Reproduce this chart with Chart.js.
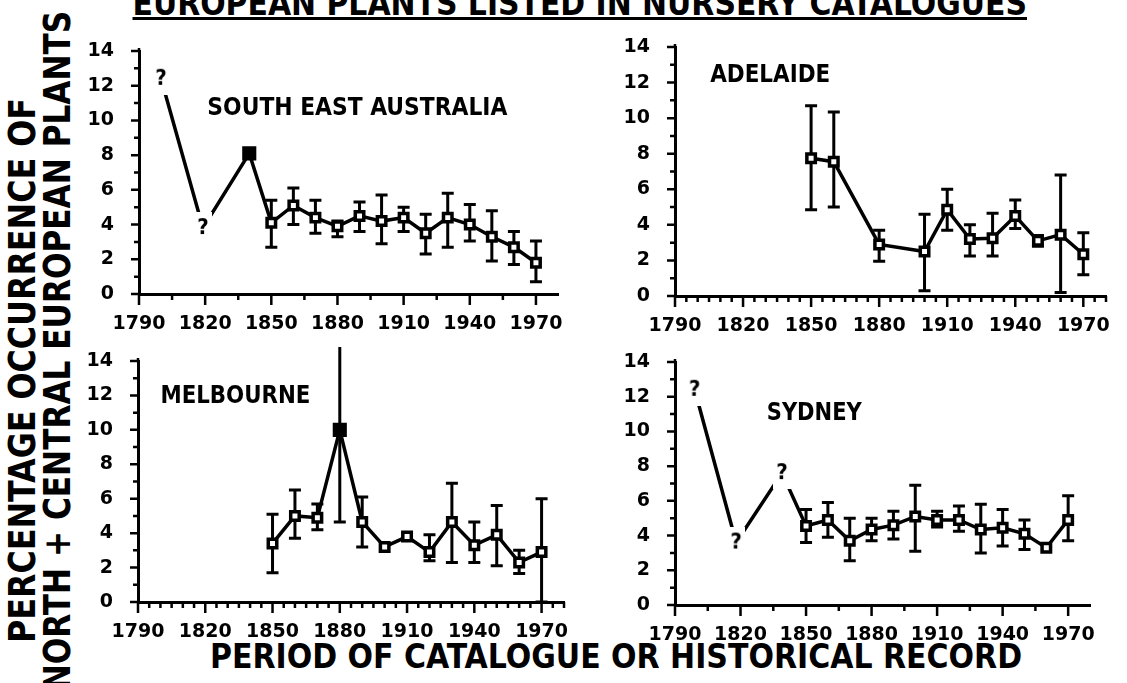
<!DOCTYPE html>
<html>
<head>
<meta charset="utf-8">
<script src="https://cdn.jsdelivr.net/npm/chart.js@4.4.0/dist/chart.umd.min.js"></script>
<style>
  body { margin: 0; background: #fff; }
  #page { position: relative; width: 1127px; height: 683px; overflow: hidden; background: #fff; }
  #page canvas { position: absolute; }
  .ttl { position: absolute; font-family: 'DejaVu Sans Condensed', 'DejaVu Sans', sans-serif; font-weight: bold;
         color: #000; white-space: nowrap; line-height: 1; }
</style>
</head>
<body>
<div id="page">
  <div class="ttl" id="mainTitle" style="font-size:34px">EUROPEAN PLANTS LISTED IN NURSERY CATALOGUES</div>
  <div class="ttl" id="yTitle1" style="font-size:37px">PERCENTAGE OCCURRENCE OF</div>
  <div class="ttl" id="yTitle2" style="font-size:37px">NORTH + CENTRAL EUROPEAN PLANTS</div>
  <div class="ttl" id="xTitle" style="font-size:34px">PERIOD OF CATALOGUE OR HISTORICAL RECORD</div>
</div>
<script>
// tick labels
var xTickValues = [1790, 1820, 1850, 1880, 1910, 1940, 1970];
var yTickValues = [0, 2, 4, 6, 8, 10, 12, 14];

// South East Australia
var seYears  = [1800, 1819, 1840, 1850, 1860, 1870, 1880, 1890, 1900, 1910, 1920, 1930, 1940, 1950, 1960, 1970];
var seValues = [12.4, 3.8, 8.1, 4.1, 5.1, 4.4, 3.9, 4.5, 4.2, 4.4, 3.5, 4.4, 4.0, 3.3, 2.7, 1.8];
var seLow    = [null, null, null, 2.7, 4.0, 3.5, 3.3, 3.6, 2.9, 3.6, 2.3, 2.7, 3.05, 1.9, 1.7, 0.7];
var seHigh   = [null, null, null, 5.4, 6.1, 5.4, 4.2, 5.3, 5.7, 5.0, 4.6, 5.8, 5.15, 4.8, 3.6, 3.05];
var seQuery  = [true, true, false, false, false, false, false, false, false, false, false, false, false, false, false, false];

// Adelaide
var adYears  = [1850, 1860, 1880, 1900, 1910, 1920, 1930, 1940, 1950, 1960, 1970];
var adValues = [7.75, 7.55, 2.9, 2.5, 4.85, 3.2, 3.25, 4.5, 3.1, 3.45, 2.35];
var adLow    = [4.85, 5.0, 1.95, 0.3, 3.7, 2.25, 2.25, 3.8, 2.8, 0.2, 1.2];
var adHigh   = [10.7, 10.35, 3.7, 4.6, 6.0, 4.0, 4.65, 5.4, 3.4, 6.8, 3.55];

// Melbourne
var meYears  = [1850, 1860, 1870, 1880, 1890, 1900, 1910, 1920, 1930, 1940, 1950, 1960, 1970];
var meValues = [3.4, 5.0, 4.9, 10.0, 4.65, 3.2, 3.8, 2.9, 4.65, 3.3, 3.9, 2.3, 2.9];
var meLow    = [1.7, 3.7, 4.2, 4.65, 3.2, null, null, 2.4, 2.3, 2.3, 2.1, 1.65, 0];
var meHigh   = [5.1, 6.5, 5.7, 15.0, 6.1, null, null, 3.9, 6.9, 4.65, 5.6, 3.0, 6.0];

// Sydney
var syYears  = [1799, 1818, 1839, 1850, 1860, 1870, 1880, 1890, 1900, 1910, 1920, 1930, 1940, 1950, 1960, 1970];
var syValues = [12.4, 3.6, 7.6, 4.55, 4.9, 3.7, 4.35, 4.6, 5.1, 4.9, 4.9, 4.35, 4.45, 4.1, 3.3, 4.9];
var syLow    = [null, null, null, 3.6, 3.9, 2.55, 3.7, 3.8, 3.1, 4.5, 4.25, 3.0, 3.4, 3.2, null, 3.7];
var syHigh   = [null, null, null, 5.5, 5.9, 5.0, 5.0, 5.4, 6.9, 5.4, 5.7, 5.8, 5.5, 4.9, null, 6.3];
var syQuery  = [true, true, true, false, false, false, false, false, false, false, false, false, false, false, false, false];

var FONT = "'DejaVu Sans Condensed', 'DejaVu Sans', sans-serif";
var TICKFONT = "'DejaVu Sans', sans-serif";
Chart.defaults.font.family = TICKFONT;
Chart.defaults.font.weight = 'bold';
Chart.defaults.color = '#000';

// "?" marker with a white patch so the line stops short of it
function queryMark() {
	var c = document.createElement('canvas');
	c.width = 18; c.height = 32;
	var g = c.getContext('2d');
	g.fillStyle = '#fff';
	g.fillRect(0, 0, c.width, c.height);
	g.fillStyle = '#000';
	g.font = "bold 22px " + FONT;
	g.textAlign = 'center';
	g.textBaseline = 'middle';
	g.fillText('?', 9, 16);
	return c;
}
var qMark = queryMark();

var errorBars = {
	id: 'errorBars',
	beforeDatasetsDraw: function(chart, args, opts) {
		var xs = chart.scales.x, ys = chart.scales.y, ctx = chart.ctx;
		ctx.save();
		ctx.strokeStyle = '#000';
		ctx.lineWidth = 3;
		for (var i = 0; i < opts.years.length; i++) {
			if (opts.low[i] == null) continue;
			var px = xs.getPixelForValue(opts.years[i]);
			var a = ys.getPixelForValue(opts.low[i]);
			var b = ys.getPixelForValue(opts.high[i]);
			ctx.beginPath();
			ctx.moveTo(px, a); ctx.lineTo(px, b);
			ctx.moveTo(px - 6, a); ctx.lineTo(px + 6, a);
			ctx.moveTo(px - 6, b); ctx.lineTo(px + 6, b);
			ctx.stroke();
		}
		ctx.restore();
	}
};

var axisMarks = {
	id: 'axisMarks',
	afterDraw: function(chart, args, opts) {
		var xs = chart.scales.x, ys = chart.scales.y, ctx = chart.ctx;
		var area = chart.chartArea;
		ctx.save();
		ctx.strokeStyle = '#000';
		ctx.lineWidth = 2.5;
		ctx.beginPath();
		for (var yr = 1790; yr <= 1980; yr += opts.xStep) {
			var px = xs.getPixelForValue(yr);
			var len = ((yr - 1790) % 30 === 0) ? 11 : 6;
			ctx.moveTo(px, area.bottom); ctx.lineTo(px, area.bottom + len);
		}
		for (var v = 0; v <= 14; v++) {
			var py = ys.getPixelForValue(v);
			var l = (v % 2 === 0) ? 8 : 5;
			ctx.moveTo(area.left, py); ctx.lineTo(area.left - l, py);
		}
		ctx.moveTo(area.left, area.top); ctx.lineTo(area.left, area.top - 3);
		ctx.stroke();
		// panel name
		var x0 = xs.getPixelForValue(opts.labelX), y0 = ys.getPixelForValue(opts.labelY);
		ctx.fillStyle = '#000';
		ctx.font = "bold 24px " + FONT;
		ctx.textBaseline = 'middle';
		var w = ctx.measureText(opts.label).width;
		ctx.translate(x0, y0);
		ctx.scale(opts.labelW / w, 1);
		ctx.fillText(opts.label, 0, 0);
		ctx.restore();
	}
};

function makePanel(p) {
	var canvas = document.createElement('canvas');
	canvas.width = p.width;
	canvas.height = p.height;
	canvas.style.left = p.left + 'px';
	canvas.style.top = p.top + 'px';
	document.getElementById('page').appendChild(canvas);

	var points = p.years.map(function(yr, i) { return { x: yr, y: p.values[i] }; });
	var styles = p.years.map(function(yr, i) { return (p.query && p.query[i]) ? qMark : 'rect'; });
	var solid = p.solid || [];
	var fills = p.years.map(function(yr) { return solid.indexOf(yr) >= 0 ? '#000' : '#fff'; });
	var radii = p.years.map(function(yr) { return solid.indexOf(yr) >= 0 ? 7.5 : 6; });

	return new Chart(canvas, {
		type: 'line',
		data: {
			datasets: [{
				data: points,
				borderColor: '#000',
				borderWidth: 3.5,
				tension: 0,
				pointStyle: styles,
				pointRadius: radii,
				pointBorderWidth: 3.5,
				pointBackgroundColor: fills,
				pointBorderColor: '#000',
				clip: false
			}]
		},
		options: {
			responsive: false,
			animation: false,
			events: [],
			layout: { padding: { left: 0, top: 14, right: 12, bottom: 0 } },
			plugins: {
				legend: { display: false },
				tooltip: { enabled: false },
				errorBars: { years: p.years, low: p.low, high: p.high },
				axisMarks: { xStep: p.xStep, label: p.label, labelX: p.labelX, labelY: p.labelY, labelW: p.labelW }
			},
			scales: {
				x: {
					type: 'linear', min: 1790, max: 1980,
					grid: { display: false, drawTicks: true, tickLength: 19 },
					border: { display: true, color: '#000', width: 3 },
					ticks: { padding: 0, autoSkip: false, maxRotation: 0, font: { size: 19, weight: 'bold' },
						callback: function(v) { return String(v); } },
					afterBuildTicks: function(s) { s.ticks = xTickValues.map(function(v) { return { value: v }; }); },
					afterFit: function(s) { s.height = 45; }
				},
				y: {
					min: 0, max: 14,
					grid: { display: false, drawTicks: true, tickLength: 25 },
					border: { display: true, color: '#000', width: 3 },
					ticks: { padding: 0, font: { size: 19, weight: 'bold' } },
					afterBuildTicks: function(s) { s.ticks = yTickValues.map(function(v) { return { value: v }; }); },
					afterFit: function(s) { s.width = 60; }
				}
			}
		},
		plugins: [errorBars, axisMarks]
	});
}

makePanel({ left: 79, top: 37, width: 491, height: 302, xStep: 15,
	years: seYears, values: seValues, low: seLow, high: seHigh, query: seQuery, solid: [1840],
	label: 'SOUTH EAST AUSTRALIA', labelX: 1821, labelY: 10.7, labelW: 300 });
makePanel({ left: 615, top: 33, width: 503, height: 308, xStep: 5,
	years: adYears, values: adValues, low: adLow, high: adHigh,
	label: 'ADELAIDE', labelX: 1805.5, labelY: 12.4, labelW: 120 });
makePanel({ left: 78, top: 347, width: 498, height: 300, xStep: 5,
	years: meYears, values: meValues, low: meLow, high: meHigh, solid: [1880],
	label: 'MELBOURNE', labelX: 1800, labelY: 11.9, labelW: 150 });
makePanel({ left: 615, top: 348, width: 487, height: 302, xStep: 15,
	years: syYears, values: syValues, low: syLow, high: syHigh, query: syQuery,
	label: 'SYDNEY', labelX: 1832, labelY: 11.0, labelW: 95 });

// place the shared titles, squeezing each to the measured length
function placeTitle(id, cx, cy, len, rotate) {
	var el = document.getElementById(id);
	var k = len / el.offsetWidth;
	el.style.left = (cx - el.offsetWidth / 2) + 'px';
	el.style.top = (cy - el.offsetHeight / 2) + 'px';
	el.style.transform = (rotate ? 'rotate(-90deg) ' : '') + 'scaleX(' + k + ')';
}
placeTitle('mainTitle', 580, 3, 895, false);
document.getElementById('mainTitle').style.textDecoration = 'underline';
document.getElementById('mainTitle').style.textDecorationThickness = '3px';
placeTitle('yTitle1', 22, 370, 545, true);
placeTitle('yTitle2', 58, 350, 680, true);
placeTitle('xTitle', 616, 656, 812, false);
</script>
</body>
</html>
